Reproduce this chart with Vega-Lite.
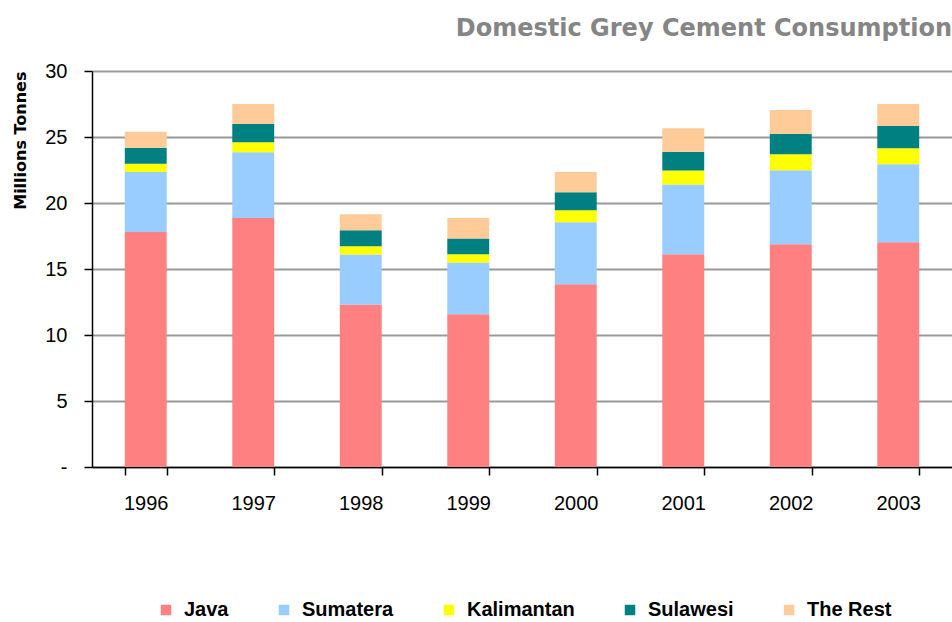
{
  "$schema": "https://vega.github.io/schema/vega-lite/v6.json",
  "autosize": "none",
  "padding": {"left": 92, "top": 71, "right": 0, "bottom": 155},
  "width": 860,
  "height": 396,
  "background": "white",
  "title": {
    "text": "Domestic Grey Cement Consumption",
    "anchor": "end",
    "font": "DejaVu Sans",
    "fontSize": 24,
    "fontWeight": "bold",
    "color": "#858585",
    "offset": 20
  },
  "config": {
    "view": {"stroke": null},
    "font": "Liberation Sans"
  },
  "data": {
    "values": [
      {"Year": "1996", "Region": "Java", "Tonnes": 17.8},
      {"Year": "1997", "Region": "Java", "Tonnes": 18.86},
      {"Year": "1998", "Region": "Java", "Tonnes": 12.32},
      {"Year": "1999", "Region": "Java", "Tonnes": 11.57},
      {"Year": "2000", "Region": "Java", "Tonnes": 13.84},
      {"Year": "2001", "Region": "Java", "Tonnes": 16.11},
      {"Year": "2002", "Region": "Java", "Tonnes": 16.87},
      {"Year": "2003", "Region": "Java", "Tonnes": 17.02},
      {"Year": "1996", "Region": "Sumatera", "Tonnes": 4.55},
      {"Year": "1997", "Region": "Sumatera", "Tonnes": 4.98},
      {"Year": "1998", "Region": "Sumatera", "Tonnes": 3.77},
      {"Year": "1999", "Region": "Sumatera", "Tonnes": 3.93},
      {"Year": "2000", "Region": "Sumatera", "Tonnes": 4.7},
      {"Year": "2001", "Region": "Sumatera", "Tonnes": 5.3},
      {"Year": "2002", "Region": "Sumatera", "Tonnes": 5.61},
      {"Year": "2003", "Region": "Sumatera", "Tonnes": 5.91},
      {"Year": "1996", "Region": "Kalimantan", "Tonnes": 0.63},
      {"Year": "1997", "Region": "Kalimantan", "Tonnes": 0.76},
      {"Year": "1998", "Region": "Kalimantan", "Tonnes": 0.63},
      {"Year": "1999", "Region": "Kalimantan", "Tonnes": 0.61},
      {"Year": "2000", "Region": "Kalimantan", "Tonnes": 0.91},
      {"Year": "2001", "Region": "Kalimantan", "Tonnes": 1.06},
      {"Year": "2002", "Region": "Kalimantan", "Tonnes": 1.21},
      {"Year": "2003", "Region": "Kalimantan", "Tonnes": 1.21},
      {"Year": "1996", "Region": "Sulawesi", "Tonnes": 1.2},
      {"Year": "1997", "Region": "Sulawesi", "Tonnes": 1.38},
      {"Year": "1998", "Region": "Sulawesi", "Tonnes": 1.21},
      {"Year": "1999", "Region": "Sulawesi", "Tonnes": 1.21},
      {"Year": "2000", "Region": "Sulawesi", "Tonnes": 1.36},
      {"Year": "2001", "Region": "Sulawesi", "Tonnes": 1.39},
      {"Year": "2002", "Region": "Sulawesi", "Tonnes": 1.54},
      {"Year": "2003", "Region": "Sulawesi", "Tonnes": 1.69},
      {"Year": "1996", "Region": "The Rest", "Tonnes": 1.21},
      {"Year": "1997", "Region": "The Rest", "Tonnes": 1.52},
      {"Year": "1998", "Region": "The Rest", "Tonnes": 1.21},
      {"Year": "1999", "Region": "The Rest", "Tonnes": 1.54},
      {"Year": "2000", "Region": "The Rest", "Tonnes": 1.54},
      {"Year": "2001", "Region": "The Rest", "Tonnes": 1.8},
      {"Year": "2002", "Region": "The Rest", "Tonnes": 1.82},
      {"Year": "2003", "Region": "The Rest", "Tonnes": 1.67}
    ]
  },
  "transform": [
    {"calculate": "indexof(['Java','Sumatera','Kalimantan','Sulawesi','The Rest'], datum.Region)", "as": "StackOrder"}
  ],
  "mark": {"type": "bar"},
  "encoding": {
    "x": {
      "field": "Year",
      "type": "ordinal",
      "scale": {"paddingInner": 0.61, "paddingOuter": 0.305},
      "axis": {
        "title": null,
        "labelAngle": 0,
        "labelFontSize": 20,
        "labelColor": "black",
        "labelPadding": 18,
        "tickBand": "extent",
        "tickSize": 8,
        "tickColor": "black",
        "domainColor": "black",
        "domainWidth": 1.5,
        "tickWidth": 1.5,
        "grid": false
      }
    },
    "y": {
      "field": "Tonnes",
      "type": "quantitative",
      "stack": "zero",
      "scale": {"domain": [0, 30], "nice": false},
      "axis": {
        "title": "Millions Tonnes",
        "titleFont": "DejaVu Sans",
        "titleFontSize": 16,
        "titleFontWeight": "bold",
        "titleColor": "black",
        "titleAnchor": "end",
        "titlePadding": 16,
        "values": [0, 5, 10, 15, 20, 25, 30],
        "labelExpr": "datum.value == 0 ? '-' : datum.label",
        "labelFontSize": 20,
        "labelColor": "black",
        "labelPadding": 17,
        "tickSize": 8,
        "tickColor": "black",
        "tickWidth": 1.5,
        "domainColor": "black",
        "domainWidth": 1.5,
        "grid": true,
        "gridColor": "#999999",
        "gridWidth": 2
      }
    },
    "order": {"field": "StackOrder", "type": "quantitative", "sort": "ascending"},
    "color": {
      "field": "Region",
      "type": "nominal",
      "sort": ["Java", "Sumatera", "Kalimantan", "Sulawesi", "The Rest"],
      "scale": {
        "domain": ["Java", "Sumatera", "Kalimantan", "Sulawesi", "The Rest"],
        "range": ["#FF8080", "#99CCFF", "#FFFF00", "#008080", "#FFCC99"]
      },
      "legend": {
        "title": null,
        "orient": "none",
        "legendX": 64,
        "legendY": 529,
        "direction": "horizontal",
        "columns": 5,
        "columnPadding": 45,
        "symbolType": "square",
        "symbolSize": 110,
        "symbolStrokeWidth": 0,
        "labelFontSize": 20,
        "labelFontWeight": "bold",
        "labelColor": "black",
        "labelOffset": 8
      }
    }
  }
}
